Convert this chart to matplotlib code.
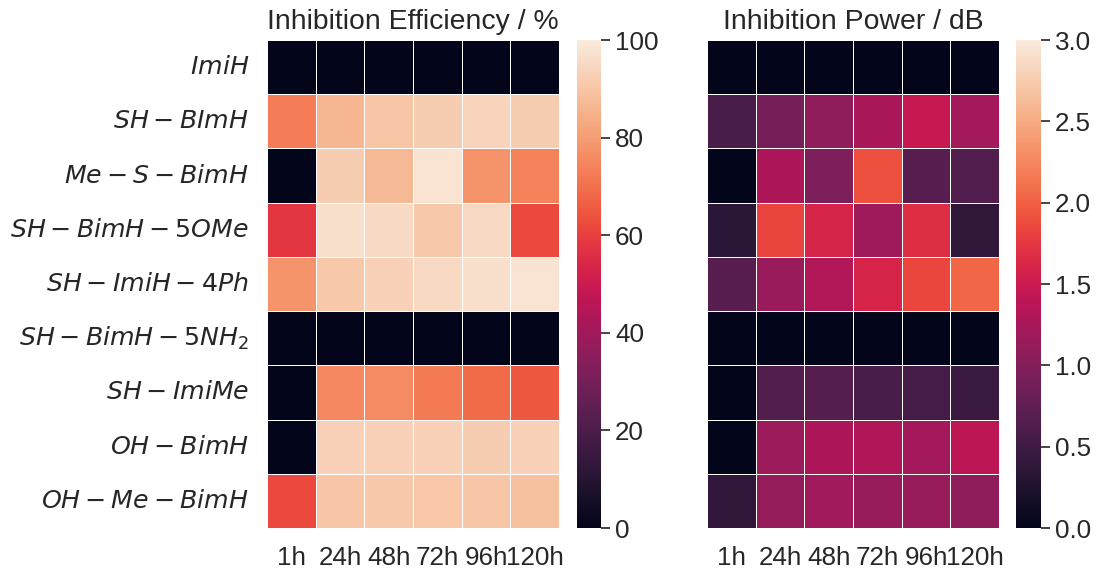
import numpy as np
import matplotlib
matplotlib.use("Agg")
import matplotlib.pyplot as plt
import seaborn as sns

# compounds and time points
compounds = [r"$ImiH$", r"$SH-BImH$", r"$Me-S-BimH$", r"$SH-BimH-5OMe$",
             r"$SH-ImiH-4Ph$", r"$SH-BimH-5NH_2$", r"$SH-ImiMe$",
             r"$OH-BimH$", r"$OH-Me-BimH$"]
times = ["1h", "24h", "48h", "72h", "96h", "120h"]

# inhibition efficiency, %
efficiency = [
    [0, 0, 0, 0, 0, 0],
    [73, 86, 90, 92, 94, 92],
    [0, 92, 87, 98, 78, 74],
    [58, 97, 95, 91, 95, 62],
    [78, 91, 93, 95, 97, 98],
    [0, 0, 0, 0, 0, 0],
    [0, 75, 76, 72, 69, 65],
    [0, 93, 93, 93, 92, 93],
    [62, 90, 91, 90.5, 90, 89],
]

# inhibition power, dB
power = [
    [0, 0, 0, 0, 0, 0],
    [0.58, 0.90, 1.08, 1.26, 1.47, 1.23],
    [0, 1.28, 0.96, 1.90, 0.70, 0.64],
    [0.33, 1.83, 1.60, 1.19, 1.68, 0.38],
    [0.68, 1.15, 1.32, 1.60, 1.85, 2.05],
    [0, 0, 0, 0, 0, 0],
    [0, 0.64, 0.67, 0.58, 0.55, 0.46],
    [0, 1.17, 1.28, 1.29, 1.22, 1.40],
    [0.38, 1.12, 1.20, 1.14, 1.14, 1.08],
]

sns.set_theme(style="ticks", font_scale=1.7)
plt.rcParams['font.family'] = ['Liberation Sans', 'DejaVu Sans']

fig = plt.figure(figsize=(11, 5.75), dpi=100)
ax1 = fig.add_axes([0.2427, 0.0817, 0.2655, 0.8487])
cax1 = fig.add_axes([0.5245, 0.0817, 0.022, 0.8487])
ax2 = fig.add_axes([0.6427, 0.0817, 0.2655, 0.8487])
cax2 = fig.add_axes([0.9236, 0.0817, 0.023, 0.8487])

sns.heatmap(np.array(efficiency), ax=ax1, cbar_ax=cax1, vmin=0, vmax=100,
            linewidths=0.6, linecolor="white", xticklabels=times,
            yticklabels=compounds,
            cbar_kws={"ticks": [0, 20, 40, 60, 80, 100]})
ax1.set_title("Inhibition Efficiency / %", pad=8)

sns.heatmap(np.array(power), ax=ax2, cbar_ax=cax2, vmin=0, vmax=3,
            linewidths=0.6, linecolor="white", xticklabels=times,
            yticklabels=False,
            cbar_kws={"ticks": [0, 0.5, 1.0, 1.5, 2.0, 2.5, 3.0],
                      "format": "%.1f"})
ax2.set_title("Inhibition Power / dB", pad=8)

for ax in (ax1, ax2):
    ax.tick_params(axis="x", rotation=0, length=0, pad=13)
    ax.tick_params(axis="y", length=0, pad=13)
ax1.set_yticklabels(compounds, rotation=0, fontsize=18.2)
for cax in (cax1, cax2):
    cax.tick_params(length=6.5, width=1.2)

plt.savefig("out.png")
